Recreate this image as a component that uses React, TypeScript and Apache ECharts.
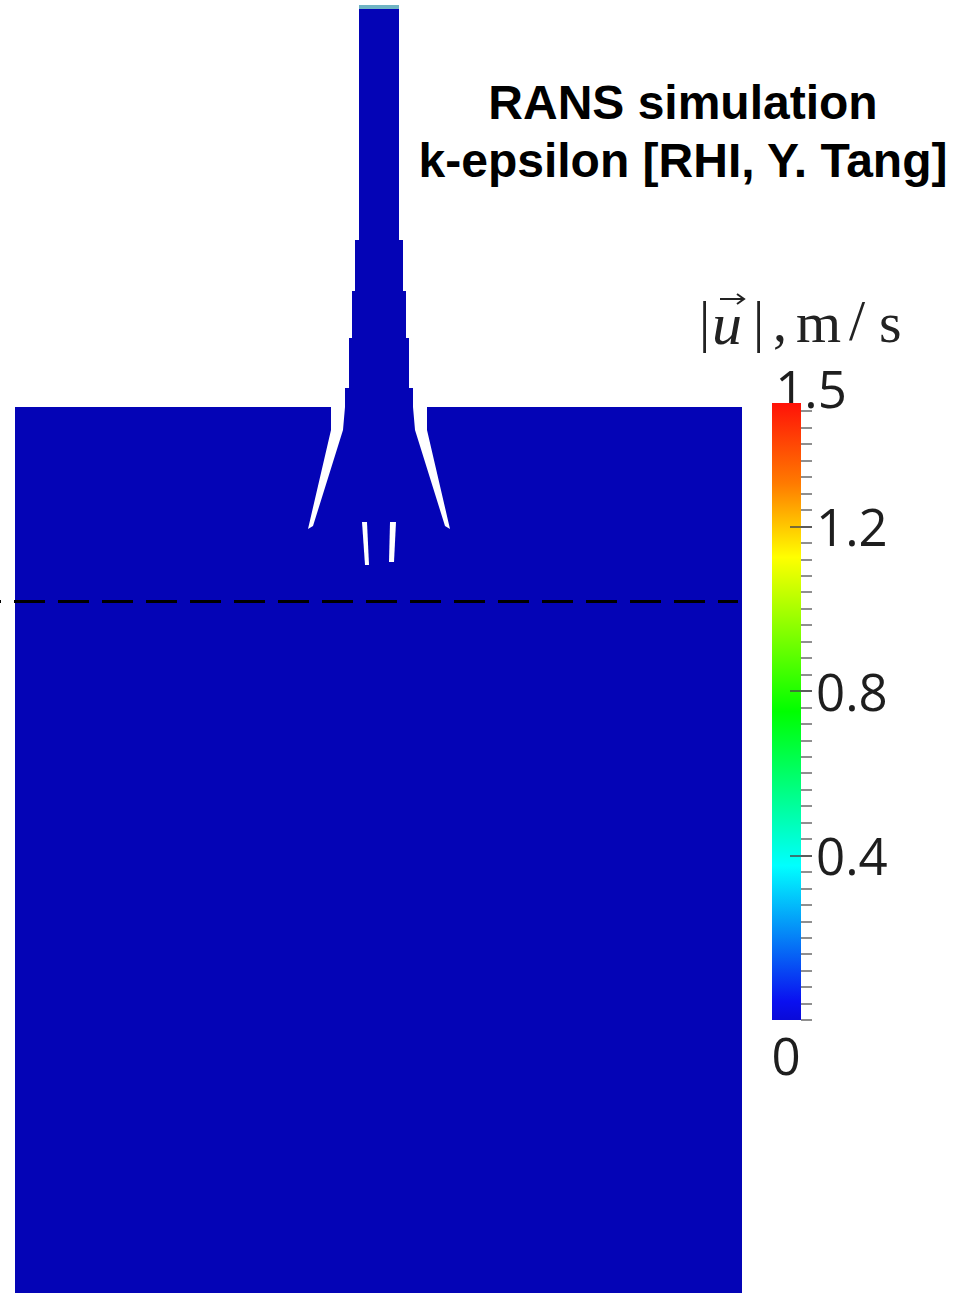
import React, { useEffect, useRef } from 'react';
import * as echarts from 'echarts';

// ---- Flow-domain geometry (simulation frame units, y grows downward) ----
const tankOutline = [[15, 407], [742, 407], [742, 1293], [15, 1293]];
const nozzleOutline = [
  [359, 5], [399, 5], [399, 240], [403, 240], [403, 291], [406, 291], [406, 338], [409, 338],
  [409, 388], [413, 388], [413, 430], [345, 430], [345, 388], [349, 388], [349, 338], [352, 338],
  [352, 291], [355, 291], [355, 240], [359, 240],
];
const leftWallSlit = [[331, 407], [345, 407], [343, 430], [313, 526], [308, 529], [331, 430]];
const rightWallSlit = [[427, 407], [413, 407], [415, 430], [445, 526], [450, 529], [427, 430]];
const innerSlitLeft = [[362, 522], [367, 522], [369, 565], [365, 565]];
const innerSlitRight = [[390, 522], [396, 522], [394, 562], [389, 562]];
const inletBand = [[359, 5], [399, 5], [399, 9], [359, 9]];

const fieldColor = '#0404b6';
const inletColor = '#6fb4c4';

// measurement line
const dividerLine = [[0, 601.5], [738, 601.5]];

// ---- colour bar ----
const cbMin = 0;
const cbMax = 1.5;
const cbLabelValues = [0.4, 0.8, 1.2];
const cbMajorTicks = [0.4, 0.8, 1.2];
const cbMinorTicks = [
  0, 0.04, 0.08, 0.12, 0.16, 0.2, 0.24, 0.28, 0.32, 0.36, 0.4, 0.44, 0.48, 0.52, 0.56, 0.6,
  0.64, 0.68, 0.72, 0.76, 0.8, 0.84, 0.88, 0.92, 0.96, 1.0, 1.04, 1.08, 1.12, 1.16, 1.2,
  1.24, 1.28, 1.32, 1.36, 1.4, 1.44, 1.48,
];
const cbStops = [
  { offset: 0, color: '#ff1208' },
  { offset: 0.13, color: '#ff7a00' },
  { offset: 0.25, color: '#ffff00' },
  { offset: 0.5, color: '#00ff00' },
  { offset: 0.75, color: '#00ffff' },
  { offset: 0.97, color: '#0a10f0' },
  { offset: 1, color: '#0a0ad8' },
];

const titleLines = ['RANS simulation', 'k-epsilon [RHI, Y. Tang]'];

const shapes = [
  { pts: tankOutline, fill: fieldColor },
  { pts: nozzleOutline, fill: fieldColor },
  { pts: leftWallSlit, fill: '#ffffff' },
  { pts: rightWallSlit, fill: '#ffffff' },
  { pts: innerSlitLeft, fill: '#ffffff' },
  { pts: innerSlitRight, fill: '#ffffff' },
  { pts: inletBand, fill: inletColor },
];

const labelFont = { fontFamily: 'Open Sans', fontSize: 51, fill: '#1e1e1e' };
const serif = 'Liberation Serif';

export default function App() {
  const ref = useRef<HTMLDivElement>(null);
  useEffect(() => {
    if (!ref.current) return;
    const chart = echarts.init(ref.current, null, { renderer: 'svg' });
    const option: any = {
      animation: false,
      backgroundColor: '#ffffff',
      grid: [
        { left: 0, top: 0, width: 953, height: 1293, containLabel: false },
        { left: 772, top: 403, width: 29, height: 617, containLabel: false },
      ],
      xAxis: [
        { gridIndex: 0, type: 'value', min: 0, max: 953, show: false },
        { gridIndex: 1, type: 'category', data: ['|u|'], show: false },
      ],
      yAxis: [
        { gridIndex: 0, type: 'value', min: 0, max: 1293, inverse: true, show: false },
        {
          gridIndex: 1, type: 'value', min: cbMin, max: cbMax, position: 'right', z: 5,
          axisLine: { show: false },
          splitLine: { show: false },
          axisTick: { show: true, customValues: cbMinorTicks, length: 11, lineStyle: { color: '#6a6a6a', width: 1.5 } },
          axisLabel: {
            show: true, customValues: cbLabelValues, margin: 15, padding: [14, 0, 0, 0],
            fontFamily: 'Open Sans', fontSize: 51, color: '#1e1e1e',
            formatter: (v: number) => v.toFixed(1),
          },
        },
        {
          gridIndex: 1, type: 'value', min: cbMin, max: cbMax, position: 'right', offset: -11, z: 5,
          axisLine: { show: false },
          splitLine: { show: false },
          axisTick: { show: true, customValues: cbMajorTicks, length: 22, lineStyle: { color: '#4a4a4a', width: 1.5 } },
          axisLabel: { show: false },
        },
      ],
      graphic: [
        {
          type: 'text', x: 683, y: 102, z: 10,
          style: { text: titleLines[0], textAlign: 'center', textVerticalAlign: 'middle', fontFamily: 'Liberation Sans', fontWeight: 'bold', fontSize: 48, fill: '#000' },
        },
        {
          type: 'text', x: 683, y: 160, z: 10,
          style: { text: titleLines[1], textAlign: 'center', textVerticalAlign: 'middle', fontFamily: 'Liberation Sans', fontWeight: 'bold', fontSize: 48, fill: '#000' },
        },
        { type: 'text', x: 811, y: 388, style: { text: '1.5', textAlign: 'center', textVerticalAlign: 'middle', ...labelFont } },
        { type: 'text', x: 786, y: 1055, style: { text: '0', textAlign: 'center', textVerticalAlign: 'middle', ...labelFont } },
        // unit label |u⃗|, m/s
        { type: 'text', x: 699, y: 322, style: { text: '|', textVerticalAlign: 'middle', fontFamily: serif, fontSize: 56, fill: '#222' } },
        { type: 'text', x: 712, y: 324, style: { text: 'u', textVerticalAlign: 'middle', fontFamily: serif, fontStyle: 'italic', fontSize: 60, fill: '#222' } },
        { type: 'line', shape: { x1: 720, y1: 299, x2: 743, y2: 299 }, style: { stroke: '#222', lineWidth: 2 } },
        { type: 'polyline', shape: { points: [[737, 294], [744, 299], [737, 304]] }, style: { stroke: '#222', lineWidth: 2, fill: 'none' } },
        { type: 'text', x: 753, y: 322, style: { text: '|', textVerticalAlign: 'middle', fontFamily: serif, fontSize: 56, fill: '#222' } },
        { type: 'text', x: 773, y: 322, style: { text: ',', textVerticalAlign: 'middle', fontFamily: serif, fontSize: 56, fill: '#222' } },
        { type: 'text', x: 796, y: 322, style: { text: 'm', textVerticalAlign: 'middle', fontFamily: serif, fontSize: 58, fill: '#222' } },
        { type: 'text', x: 849, y: 320, style: { text: '/', textVerticalAlign: 'middle', fontFamily: serif, fontSize: 58, fill: '#222' } },
        { type: 'text', x: 879, y: 322, style: { text: 's', textVerticalAlign: 'middle', fontFamily: serif, fontSize: 58, fill: '#222' } },
      ],
      series: [
        {
          type: 'custom',
          coordinateSystem: 'cartesian2d',
          xAxisIndex: 0,
          yAxisIndex: 0,
          z: 1,
          silent: true,
          data: shapes.map((s) => s.pts[0]),
          renderItem: (params: any, api: any) => {
            const s = shapes[params.dataIndex];
            const points = s.pts.map((p) => api.coord(p));
            return {
              type: 'polygon',
              shape: { points },
              style: { fill: s.fill, stroke: 'none' },
            };
          },
        },
        {
          type: 'line',
          xAxisIndex: 0,
          yAxisIndex: 0,
          z: 3,
          symbol: 'none',
          silent: true,
          data: dividerLine,
          lineStyle: { color: '#000000', width: 3, type: [31, 13], dashOffset: 30 },
        },
        {
          type: 'bar',
          xAxisIndex: 1,
          yAxisIndex: 1,
          z: 1,
          silent: true,
          barWidth: '100%',
          data: [cbMax],
          itemStyle: {
            color: { type: 'linear', x: 0, y: 0, x2: 0, y2: 1, colorStops: cbStops },
          },
        },
      ],
    };
    chart.setOption(option);
    return () => chart.dispose();
  }, []);
  return <div ref={ref} style={{ position: 'fixed', left: 0, top: 0, width: 953, height: 1293 }} />;
}
